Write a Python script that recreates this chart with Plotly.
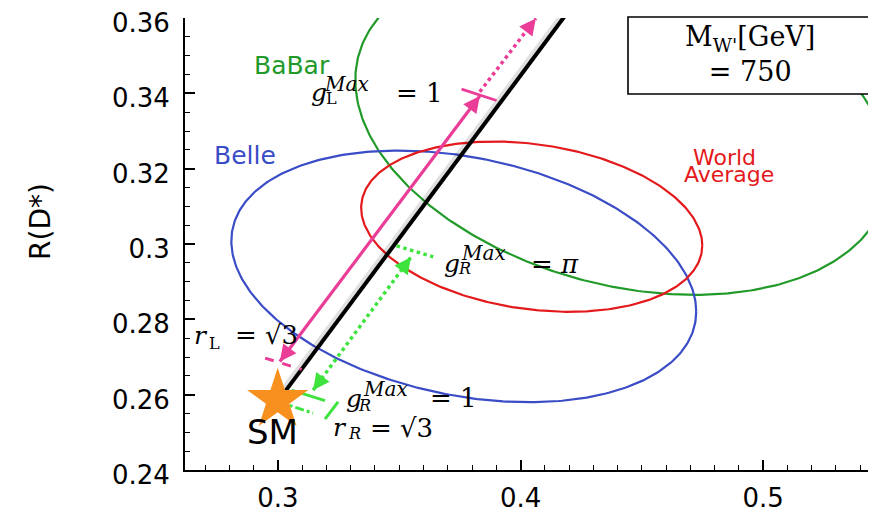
import numpy as np
import plotly.graph_objects as go

# ---------------- data ----------------
# 1-sigma contours: centre, half extents, correlation
ellipse_names = ["BaBar", "Belle", "World Average"]
ellipse_cx = [0.4420, 0.3766, 0.4046]
ellipse_cy = [0.3314, 0.2914, 0.3046]
ellipse_hx = [0.1101, 0.0958, 0.0703]
ellipse_hy = [0.0449, 0.0334, 0.0226]
ellipse_rho = [-0.27, -0.28, -0.22]
ellipse_colors = ["#229a2a", "#3a4cc6", "#e3191c"]

# W' prediction line starting at the SM point
wline_x = [0.3029, 0.4188]
wline_y = [0.2608, 0.3610]

# left-handed coupling markers (magenta)
gL_arrow_x = [0.3008, 0.3832]
gL_arrow_y = [0.2688, 0.3393]
gL_bar_x = [0.3757, 0.3901]
gL_bar_y = [0.3411, 0.3381]
gL_dot_x = [0.3832, 0.4063]
gL_dot_y = [0.3404, 0.3599]
rL_bar_x = [0.2947, 0.3098]
rL_bar_y = [0.2697, 0.2667]

# right-handed coupling markers (green)
gR_arrow_x = [0.3145, 0.3548]
gR_arrow_y = [0.2612, 0.2965]
gRpi_bar_x = [0.3489, 0.3640]
gRpi_bar_y = [0.2995, 0.2966]
gR1_bar_x = [0.3056, 0.3194]
gR1_bar_y = [0.2612, 0.2584]
rR_bar_x = [0.3001, 0.3145]
rR_bar_y = [0.2581, 0.2551]
rR_arrow_x = [0.3194, 0.3248]
rR_arrow_y = [0.2535, 0.2581]

# Standard Model point
sm_x = [0.2999]
sm_y = [0.2586]

# axes
x_range = [0.2617, 0.5465]
y_range = [0.24, 0.36]
x_tickvals = [0.3, 0.4, 0.5]
x_ticktext = ["0.3", "0.4", "0.5"]
y_tickvals = [0.24, 0.26, 0.28, 0.30, 0.32, 0.34, 0.36]
y_ticktext = ["0.24", "0.26", "0.28", "0.3", "0.32", "0.34", "0.36"]

# ---------------- layout geometry ----------------
# the page body adds an 8 px offset, so the figure is drawn 8 px smaller
OFF = 8
W, H = 876 - OFF, 513 - OFF
ML, MR, MT, MB = 185 - OFF, 0, 18 - OFF, 43
PW, PH = W - ML - MR, H - MT - MB
SX = PW / (x_range[1] - x_range[0])   # px per x unit
SY = PH / (y_range[1] - y_range[0])   # px per y unit
PLOT_LEFT, PLOT_BOTTOM = ML + OFF, MT + OFF + PH   # in window pixels


def paper_x(px):
    return (px - PLOT_LEFT) / PW


def paper_y(py):
    return (PLOT_BOTTOM - py) / PH


MAG = "#ea3d97"
LIME = "#3ee33e"

fig = go.Figure()

# ellipses
t = np.linspace(0, 2 * np.pi, 400)
for name, cx, cy, hx, hy, rho, col in zip(ellipse_names, ellipse_cx, ellipse_cy,
                                          ellipse_hx, ellipse_hy, ellipse_rho,
                                          ellipse_colors):
    phi = np.arccos(rho)
    fig.add_trace(go.Scatter(x=cx + hx * np.cos(t), y=cy + hy * np.cos(t + phi),
                             mode="lines", line=dict(color=col, width=2.2),
                             name=name, hoverinfo="skip"))

# prediction line with faint shadow
shift = 2.5 / SX
fig.add_trace(go.Scatter(x=[v - shift for v in wline_x], y=wline_y, mode="lines",
                         line=dict(color="rgba(0,0,0,0.12)", width=7), hoverinfo="skip"))
fig.add_trace(go.Scatter(x=wline_x, y=wline_y, mode="lines",
                         line=dict(color="black", width=4), hoverinfo="skip"))


def seg(x, y, color, width, dash="solid"):
    fig.add_trace(go.Scatter(x=x, y=y, mode="lines",
                             line=dict(color=color, width=width, dash=dash),
                             hoverinfo="skip"))


seg(gL_arrow_x, gL_arrow_y, MAG, 3.2)
seg(gL_bar_x, gL_bar_y, MAG, 2.8)
seg(gL_dot_x, gL_dot_y, MAG, 3.5, "dot")
seg(rL_bar_x, rL_bar_y, MAG, 3, "dash")

seg(gR_arrow_x, gR_arrow_y, LIME, 3.5, "dot")
seg(gRpi_bar_x, gRpi_bar_y, LIME, 3.5, "dot")
seg(gR1_bar_x, gR1_bar_y, LIME, 3)
seg(rR_bar_x, rR_bar_y, LIME, 3, "dashdot")
seg(rR_arrow_x, rR_arrow_y, LIME, 3)

# SM star
fig.add_trace(go.Scatter(x=sm_x, y=sm_y, mode="markers",
                         marker=dict(symbol="star", size=46, color="#f7901e",
                                     line=dict(width=0)), hoverinfo="skip"))

annotations = []


def head(xs, ys, idx_tip, color, width=3, length=9):
    tip = idx_tip
    tail = 1 - idx_tip
    dx = (xs[tip] - xs[tail]) * SX
    dy = (ys[tip] - ys[tail]) * SY
    n = np.hypot(dx, dy)
    annotations.append(dict(x=xs[tip], y=ys[tip], xref="x", yref="y", text=" ",
                            showarrow=True, arrowhead=2, arrowsize=1.1,
                            arrowwidth=width, arrowcolor=color,
                            ax=-dx / n * length, ay=dy / n * length,
                            font=dict(size=1),
                            standoff=0, startstandoff=0))


head(gL_arrow_x, gL_arrow_y, 1, MAG)
head(gL_arrow_x, gL_arrow_y, 0, MAG)
head(gL_dot_x, gL_dot_y, 1, MAG)
head(gR_arrow_x, gR_arrow_y, 1, LIME)
head(gR_arrow_x, gR_arrow_y, 0, LIME)
head(rR_arrow_x, rR_arrow_y, 1, LIME, 3, 6)
head(rR_arrow_x, rR_arrow_y, 0, LIME, 3, 6)

SANS = "DejaVu Sans"
SERIF = "DejaVu Serif"


def lab(x, y, text, size, color="black", family=SANS, anchor="center"):
    annotations.append(dict(x=x, y=y, xref="x", yref="y", text=text, showarrow=False,
                            xanchor=anchor, yanchor="middle", borderpad=0,
                            font=dict(family=family, size=size, color=color)))


# experiment labels
lab(0.3058, 0.3473, "BaBar", 25, "#229a2a")
lab(0.2864, 0.3234, "Belle", 25, "#3a4cc6")
lab(0.4841, 0.3230, "World", 22, "#e3191c")
lab(0.4860, 0.3184, "Average", 22, "#e3191c")
lab(0.2979, 0.2501, "SM", 34, "black")

# coupling labels: base letter, superscript, subscript, remainder
math_labels = [
    # (x_base, y_base, base, x_sup, y_sup, sup, x_sub, y_sub, sub, x_rest, rest)
    (0.3132, 0.3401, "<i>g</i>", 0.3185, 0.3425, "<i>Max</i>", 0.3194, 0.3385, "L", 0.3484, "= 1"),
    (0.3680, 0.2947, "<i>g</i>", 0.3750, 0.2976, "<i>Max</i>", 0.3737, 0.2936, "<i>R</i>", 0.4040, "= <i>π</i>"),
    (0.3276, 0.2591, "<i>g</i>", 0.3346, 0.2615, "<i>Max</i>", 0.3325, 0.2572, "<i>R</i>", 0.3624, "= 1"),
    (0.2650, 0.2758, "<i>r</i>", None, None, None, 0.2712, 0.2737, "L", 0.2818, "= √3"),
    (0.3222, 0.2512, "<i>r</i>", None, None, None, 0.3284, 0.2496, "<i>R</i>", 0.3374, "= √3"),
]
for (xb, yb, base, xs, ys, sup, xsb, ysb, sub, xr, rest) in math_labels:
    lab(xb, yb, base, 25, family=SERIF, anchor="left")
    if sup:
        lab(xs, ys, sup, 20, family=SERIF, anchor="left")
    lab(xsb, ysb, sub, 16, family=SERIF, anchor="left")
    lab(xr, yb, rest, 26, family=SERIF, anchor="left")

# mass box text
annotations.append(dict(x=paper_x(750), y=paper_y(54), xref="paper", yref="paper",
                        text="M<sub>W'</sub>[GeV]<br>= 750", showarrow=False,
                        xanchor="center", yanchor="middle",
                        font=dict(family=SERIF, size=27, color="black")))

# y-axis title
annotations.append(dict(x=paper_x(40), y=paper_y(222), xref="paper", yref="paper",
                        text="R(D*)", textangle=-90, showarrow=False,
                        xanchor="center", yanchor="middle",
                        font=dict(family=SANS, size=28, color="black")))

shapes = [dict(type="rect", xref="paper", yref="paper",
               x0=paper_x(628), x1=paper_x(890),
               y0=paper_y(94), y1=paper_y(17),
               line=dict(color="black", width=1.6), fillcolor="white", layer="above")]

fig.update_layout(
    width=W, height=H,
    margin=dict(l=ML, r=MR, t=MT, b=MB, pad=0, autoexpand=False),
    paper_bgcolor="white", plot_bgcolor="white",
    showlegend=False,
    annotations=annotations, shapes=shapes,
    xaxis=dict(range=x_range, showgrid=False, zeroline=False, automargin=False,
               showline=True, linecolor="black", linewidth=2,
               tickmode="array", tickvals=x_tickvals, ticktext=x_ticktext,
               ticks="inside", ticklen=10, tickwidth=1.5, tickcolor="black",
               minor=dict(tickmode="linear", tick0=0.3, dtick=0.01, ticks="inside",
                          ticklen=5, tickwidth=1.2, tickcolor="black"),
               tickfont=dict(family=SANS, size=26, color="black"),
               ticklabelstandoff=4, ticklabeloverflow="allow"),
    yaxis=dict(range=y_range, showgrid=False, zeroline=False, automargin=False,
               showline=True, linecolor="black", linewidth=2,
               tickmode="array", tickvals=y_tickvals, ticktext=y_ticktext,
               ticks="inside", ticklen=10, tickwidth=1.5, tickcolor="black",
               minor=dict(tickmode="linear", tick0=0.24, dtick=0.005, ticks="inside",
                          ticklen=5, tickwidth=1.2, tickcolor="black"),
               tickfont=dict(family=SANS, size=26, color="black"),
               ticklabelstandoff=8, ticklabelshift=5, ticklabeloverflow="allow"),
)

fig.write_html("out.html")
